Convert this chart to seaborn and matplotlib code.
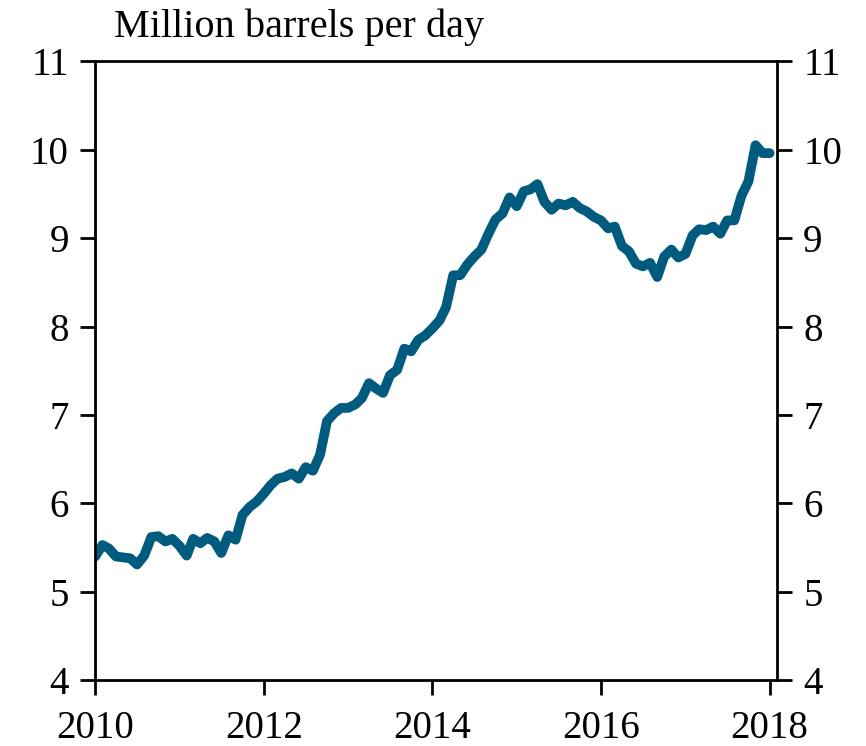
import pandas as pd
import seaborn as sns
import matplotlib.pyplot as plt
import matplotlib.dates as mdates

# Monthly crude production, Jan 2010 - Jan 2018 (million barrels per day)
start_month = "2010-01-01"
production = [
    5.40, 5.53, 5.49, 5.40, 5.39, 5.38, 5.31, 5.41, 5.62, 5.63, 5.57, 5.60,  # 2010
    5.52, 5.41, 5.60, 5.55, 5.61, 5.57, 5.44, 5.64, 5.59, 5.87, 5.96, 6.02,  # 2011
    6.11, 6.21, 6.28, 6.30, 6.34, 6.28, 6.41, 6.37, 6.55, 6.93, 7.02, 7.08,  # 2012
    7.08, 7.12, 7.19, 7.36, 7.30, 7.25, 7.45, 7.51, 7.75, 7.72, 7.85, 7.90,  # 2013
    7.98, 8.07, 8.22, 8.58, 8.58, 8.70, 8.79, 8.87, 9.05, 9.21, 9.28, 9.46,  # 2014
    9.36, 9.53, 9.55, 9.61, 9.41, 9.32, 9.39, 9.37, 9.41, 9.34, 9.30, 9.24,  # 2015
    9.20, 9.11, 9.13, 8.91, 8.85, 8.71, 8.68, 8.72, 8.56, 8.79, 8.87, 8.78,  # 2016
    8.82, 9.03, 9.10, 9.09, 9.13, 9.05, 9.20, 9.20, 9.48, 9.64, 10.05, 9.96,  # 2017
    9.96,                                                                    # 2018
]
y_ticks = [4, 5, 6, 7, 8, 9, 10, 11]
unit_label = "Million barrels per day"

df = pd.DataFrame({
    "date": pd.date_range(start_month, periods=len(production), freq="MS"),
    "value": production,
})

sns.set_style("white")
plt.rcParams["font.family"] = ["Liberation Serif", "DejaVu Serif"]

fig = plt.figure(figsize=(8.66, 7.46), dpi=100)
ax = fig.add_axes([0.110, 0.088, 0.787, 0.830])

sns.lineplot(data=df, x="date", y="value", color="#005b7f",
             linewidth=7, solid_capstyle="round", ax=ax)

ax.set_xlim(pd.Timestamp("2010-01-01"), pd.Timestamp("2018-02-01"))
ax.set_ylim(4, 11)
ax.set_yticks(y_ticks)
ax.xaxis.set_major_locator(mdates.YearLocator(2))
ax.xaxis.set_major_formatter(mdates.DateFormatter("%Y"))
ax.set_xlabel("")
ax.set_ylabel("")

for s in ax.spines.values():
    s.set_visible(True)
    s.set_color("black")
    s.set_linewidth(2.0)

ax.tick_params(axis="y", which="both", left=True, right=True,
               labelleft=True, labelright=True, direction="out",
               length=11, width=2.0, labelsize=28, pad=8, colors="black")
ax.tick_params(axis="x", bottom=True, direction="out", length=11,
               width=2.0, labelsize=28, pad=10, colors="black")

ax.text(0.028, 1.025, unit_label, transform=ax.transAxes,
        fontsize=29, ha="left", va="bottom", color="black")

fig.savefig("out.png", dpi=100)
